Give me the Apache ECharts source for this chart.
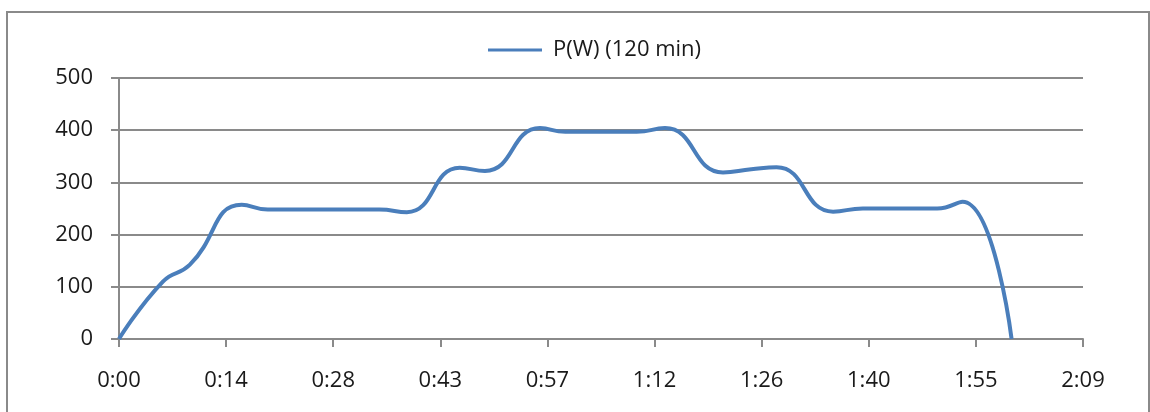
<!DOCTYPE html>
<html>
<head>
<meta charset="utf-8">
<script src="https://cdn.jsdelivr.net/npm/echarts@6/dist/echarts.min.js"></script>
<style>
    html, body { margin: 0; padding: 0; background: #fff; }
    .frame { position: absolute; left: 6px; top: 11px; width: 1140px; height: 420px;
             border: 2px solid #8a8a8a; border-bottom: none; }
    #chart { position: absolute; left: 0; top: 0; width: 1150px; height: 412px; }
</style>
</head>
<body>
<div class="frame"></div>
<div id="chart"></div>
<script>
    // time in minutes, power in W
    var seriesName = "P(W) (120 min)";
    var minutes = [0, 5.9, 9.5, 16.5, 20, 25, 30, 35, 38.7, 45.8, 49.2, 56.6, 60, 65, 69.6, 73.4, 81.2, 85, 88.4, 96, 100, 105, 110, 113.4, 120];
    var power = [0, 110, 142, 257, 248, 248, 248, 248, 243, 328, 322, 404, 397, 397, 397, 404, 319, 325, 329, 244, 250, 250, 250, 263, 0];
    // Excel style h:mm ticks, every 0.01 day (14.4 min)
    var tickLabels = ["0:00", "0:14", "0:28", "0:43", "0:57", "1:12", "1:26", "1:40", "1:55", "2:09"];
    var tickStep = 14.4;

    var chart = echarts.init(document.getElementById("chart"));
    var gray = "#8a8a8a";
    var font = "'Open Sans', 'Noto Sans', sans-serif";

    var option = {
        animation: false,
        grid: { left: 119, right: 67, top: 78, bottom: 73 },
        legend: {
            top: 34,
            left: 483,
            icon: "rect",
            itemWidth: 54,
            itemHeight: 3,
            itemGap: 10,
            data: [seriesName],
            textStyle: { fontFamily: font, fontSize: 22, color: "#1a1a1a", padding: [0, 0, 0, 6] }
        },
        xAxis: {
            type: "value",
            min: 0,
            max: tickStep * (tickLabels.length - 1),
            interval: tickStep,
            axisLine: { show: true, lineStyle: { color: gray, width: 2 } },
            axisTick: { show: true, length: 8, lineStyle: { color: gray, width: 2 } },
            splitLine: { show: false },
            axisLabel: {
                margin: 31,
                fontFamily: font,
                fontSize: 22,
                color: "#1a1a1a",
                formatter: function (v) {
                    return tickLabels[Math.round(v / tickStep)] || "";
                }
            }
        },
        yAxis: {
            type: "value",
            min: 0,
            max: 500,
            interval: 100,
            axisLine: { show: true, lineStyle: { color: gray, width: 2 } },
            axisTick: { show: true, length: 8, lineStyle: { color: gray, width: 2 } },
            splitLine: { show: true, lineStyle: { color: gray, width: 2 } },
            axisLabel: { margin: 26, fontFamily: font, fontSize: 22, color: "#1a1a1a" }
        },
        series: [{
            name: seriesName,
            type: "line",
            smooth: 0.5,
            symbol: "none",
            lineStyle: { color: "#4a7ebb", width: 4 },
            itemStyle: { color: "#4a7ebb" },
            data: minutes.map(function (m, i) {
                return [m, power[i]];
            })
        }]
    };
    chart.setOption(option);
</script>
</body>
</html>
